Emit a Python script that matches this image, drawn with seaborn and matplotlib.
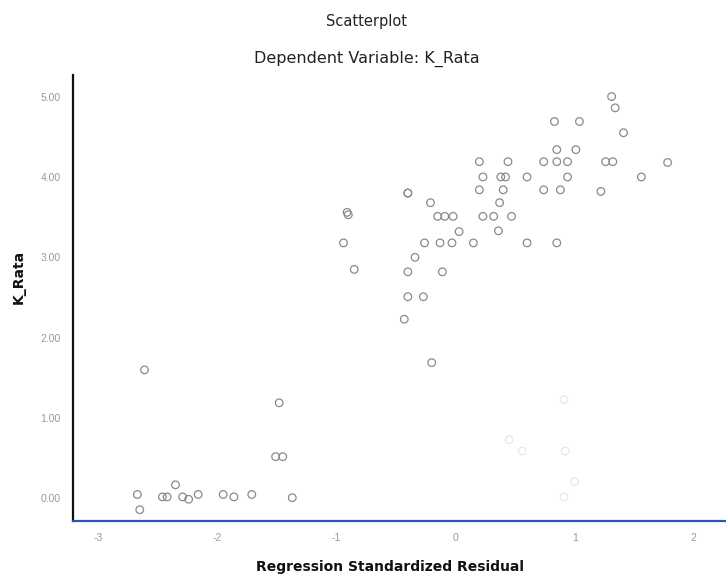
import matplotlib
matplotlib.use("Agg")
import matplotlib.pyplot as plt
import seaborn as sns
import pandas as pd

# Regression standardized residual (x) and K_Rata (y)
resid = [-2.67, -2.46, -2.42, -2.29, -2.24, -2.16, -1.95, -1.86, -1.71, -1.37, -2.35, -2.65,
         -2.61, -1.51, -1.45, -1.48,
         -0.94, -0.91, -0.85, -0.90,
         -0.43, -0.40, -0.27, -0.40, -0.34, -0.40, -0.11, -0.20,
         1.31, 1.34, 0.83, 1.04, 1.41, 0.85, 1.01,
         0.20, 0.44, 0.74, 0.85, 0.94, 1.26, 1.32, 1.78,
         0.23, 0.38, 0.42, 0.60, 0.94, 1.56,
         -0.40, 0.20, 0.40, 0.74, 0.88, 1.22,
         -0.21, 0.37,
         -0.15, -0.09, -0.02, 0.23, 0.32, 0.47,
         0.03, 0.36,
         -0.26, -0.13, -0.03, 0.15, 0.60, 0.85]
k_rata = [0.05, 0.02, 0.02, 0.02, -0.01, 0.05, 0.05, 0.02, 0.05, 0.01, 0.17, -0.14,
          1.60, 0.52, 0.52, 1.19,
          3.18, 3.56, 2.85, 3.53,
          2.23, 2.51, 2.51, 2.82, 3.00, 3.80, 2.82, 1.69,
          5.00, 4.86, 4.69, 4.69, 4.55, 4.34, 4.34,
          4.19, 4.19, 4.19, 4.19, 4.19, 4.19, 4.19, 4.18,
          4.00, 4.00, 4.00, 4.00, 4.00, 4.00,
          3.80, 3.84, 3.84, 3.84, 3.84, 3.82,
          3.68, 3.68,
          3.51, 3.51, 3.51, 3.51, 3.51, 3.51,
          3.32, 3.33,
          3.18, 3.18, 3.18, 3.18, 3.18, 3.18]

# very faint points in the lower right
faint_resid = [0.91, 0.45, 0.56, 0.92, 1.00, 0.91]
faint_k = [1.23, 0.73, 0.59, 0.59, 0.21, 0.02]

title = "Scatterplot"
subtitle = "Dependent Variable: K_Rata"
x_label = "Regression Standardized Residual"
y_label = "K_Rata"
x_ticks = [-3, -2, -1, 0, 1, 2]
x_tick_labels = ["-3", "-2", "-1", "0", "1", "2"]
y_ticks = [0, 1, 2, 3, 4, 5]
y_tick_labels = ["0.00", "1.00", "2.00", "3.00", "4.00", "5.00"]

sns.set_style("white")
plt.rcParams["font.family"] = ["Liberation Sans", "DejaVu Sans"]

fig = plt.figure(figsize=(7.26, 5.76), dpi=100)
ax = fig.add_axes([0.1006, 0.0955, 0.8994, 0.7745])

df = pd.DataFrame({"resid": resid, "k": k_rata})
dff = pd.DataFrame({"resid": faint_resid, "k": faint_k})

sns.scatterplot(data=dff, x="resid", y="k", ax=ax, marker="o", s=30,
                facecolor="none", edgecolor="#e6e6e6", linewidth=0.8)
sns.scatterplot(data=df, x="resid", y="k", ax=ax, marker="o", s=30,
                facecolor="none", edgecolor="#8a8a8a", linewidth=0.9)

ax.set_xlim(-3.21, 2.27)
ax.set_ylim(-0.28, 5.27)
ax.set_xticks(x_ticks)
ax.set_xticklabels(x_tick_labels)
ax.set_yticks(y_ticks)
ax.set_yticklabels(y_tick_labels)
ax.tick_params(axis="both", labelsize=7.5, labelcolor="#999999", length=4,
               width=0.8, color="#333333", direction="out", pad=5)

for side in ["top", "right"]:
    ax.spines[side].set_visible(False)
ax.spines["left"].set_color("#111111")
ax.spines["left"].set_linewidth(1.6)
ax.spines["bottom"].set_color("#3050c0")
ax.spines["bottom"].set_linewidth(1.6)

ax.set_xlabel("")
ax.set_ylabel("")
fig.text(0.537, 0.0156, x_label, ha="center", va="center", fontsize=10,
         fontweight="bold", color="#111111", family=["DejaVu Sans"])
fig.text(0.026, 0.519, y_label, ha="center", va="center", rotation=90,
         fontsize=10, fontweight="bold", color="#111111", family=["DejaVu Sans"])

fig.text(0.505, 0.962, title, ha="center", va="center", fontsize=10.5,
         color="#222222", family=["DejaVu Sans"])
fig.text(0.505, 0.898, subtitle, ha="center", va="center", fontsize=11.5,
         color="#222222", family=["DejaVu Sans"])

fig.savefig("out.png", dpi=100)
